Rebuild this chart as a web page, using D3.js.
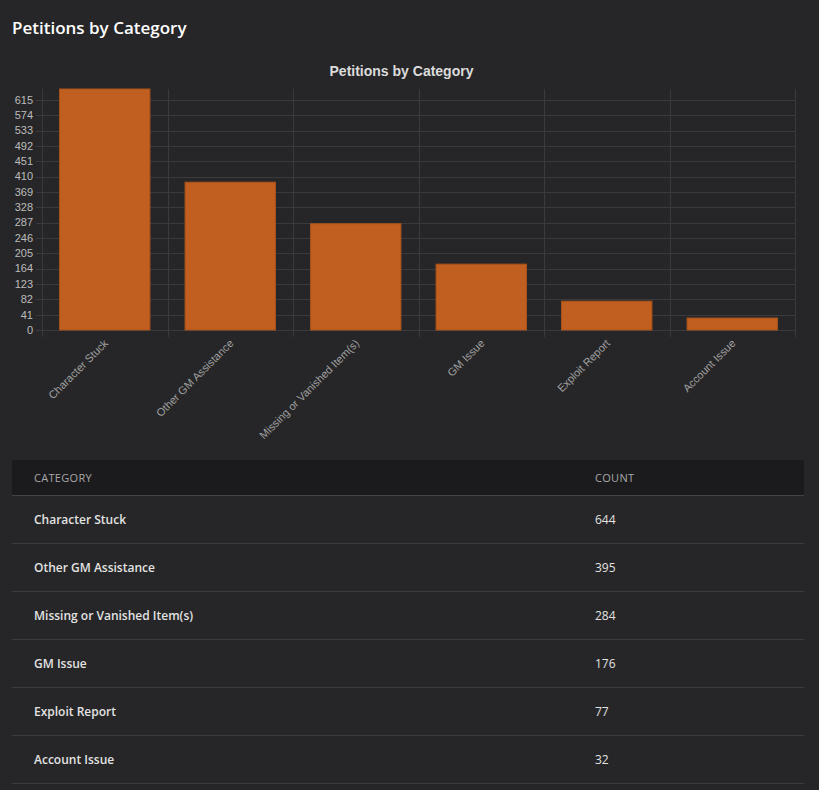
<!DOCTYPE html>
<html>
<head>
<meta charset="utf-8">
<script src="https://cdn.jsdelivr.net/npm/d3@7"></script>
<style>
  body { margin: 0; background: #262628; color: #eee; font-family: "Open Sans", sans-serif; }
  h2 { margin: 0; position: absolute; left: 12px; top: 16px; font-size: 17px; font-weight: 600; color: #fff; }
  #chart { position: absolute; left: 0; top: 50px; }
  table { position: absolute; left: 12px; top: 460px; width: 792px; border-collapse: collapse;
          font-family: "Open Sans", sans-serif; }
  th { background: #1b1b1d; color: #a8a8a8; font-size: 11px; font-weight: 500; text-align: left;
       height: 35px; padding: 0 0 0 22px; border-bottom: 1px solid #444; letter-spacing: 0.3px; }
  td { color: #e2e2e2; font-size: 12px; font-weight: 600; height: 47px; padding: 0 0 0 22px;
       border-bottom: 1px solid #3c3c3f; }
  td.num { font-weight: 500; }
</style>
</head>
<body>
<h2>Petitions by Category</h2>
<div id="chart"></div>
<table id="tbl"></table>
<script>
// Data
const categories = ["Character Stuck", "Other GM Assistance", "Missing or Vanished Item(s)", "GM Issue", "Exploit Report", "Account Issue"];
const counts = [644, 395, 284, 176, 77, 32];
const yTicks = [0, 41, 82, 123, 164, 205, 246, 287, 328, 369, 410, 451, 492, 533, 574, 615];

const data = categories.map((c, i) => ({category: c, count: counts[i]}));

// Chart dimensions (svg sits 50px below page top)
const margin = {top: 39, right: 24, bottom: 110, left: 42};
const width = 819 - margin.left - margin.right;
const height = 280 - margin.top;

const svg = d3.select("#chart")
    .append("svg")
    .attr("width", 819)
    .attr("height", 400)
    .style("font-family", "'Liberation Sans', Arial, sans-serif");

const g = svg.append("g")
    .attr("transform", `translate(${margin.left}, ${margin.top})`);

const x = d3.scaleBand()
    .domain(categories)
    .range([0, width]);

const y = d3.scaleLinear()
    .domain([0, d3.max(counts)])
    .range([height, 0]);

// Title
svg.append("text")
    .attr("x", margin.left + width / 2 - 17)
    .attr("y", 26)
    .attr("text-anchor", "middle")
    .style("font-size", "14px")
    .style("font-weight", "bold")
    .style("fill", "#dcdcdc")
    .text("Petitions by Category");

// Horizontal grid
g.selectAll(".hgrid")
    .data(yTicks)
    .enter()
    .append("line")
    .attr("x1", -6)
    .attr("x2", width)
    .attr("y1", d => Math.round(y(d)) + 0.5)
    .attr("y2", d => Math.round(y(d)) + 0.5)
    .attr("stroke", "#3a3a3e");

// Vertical grid at category boundaries
const bounds = categories.map(c => x(c)).concat([width]);
g.selectAll(".vgrid")
    .data(bounds)
    .enter()
    .append("line")
    .attr("x1", d => Math.round(d) + 0.5)
    .attr("x2", d => Math.round(d) + 0.5)
    .attr("y1", 0)
    .attr("y2", height + 7)
    .attr("stroke", "#3a3a3e");

// Bars
const barW = x.bandwidth() * 0.72;
g.selectAll(".bar")
    .data(data)
    .enter()
    .append("rect")
    .attr("class", "bar")
    .attr("x", d => x(d.category) + (x.bandwidth() - barW) / 2)
    .attr("y", d => y(d.count))
    .attr("width", barW)
    .attr("height", d => height - y(d.count))
    .attr("fill", "#c05f1f")
    .attr("stroke", "#a9531b")
    .attr("stroke-width", 1);

// Y axis labels
g.selectAll(".ylab")
    .data(yTicks)
    .enter()
    .append("text")
    .attr("x", -9)
    .attr("y", d => y(d))
    .attr("dy", "0.35em")
    .attr("text-anchor", "end")
    .style("font-size", "11px")
    .style("fill", "#bcbcbc")
    .text(d => d);

// X axis labels, rotated
g.selectAll(".xlab")
    .data(categories)
    .enter()
    .append("text")
    .attr("transform", d => `translate(${x(d) + x.bandwidth() / 2 + 4}, ${height + 14}) rotate(-45)`)
    .attr("text-anchor", "end")
    .style("font-size", "11px")
    .style("fill", "#a0a0a0")
    .text(d => d);

// Table
const tbl = d3.select("#tbl");
tbl.append("tr")
    .selectAll("th")
    .data(["CATEGORY", "COUNT"])
    .enter()
    .append("th")
    .style("width", (d, i) => i === 0 ? "539px" : null)
    .text(d => d);

tbl.selectAll(".row")
    .data(data)
    .enter()
    .append("tr")
    .selectAll("td")
    .data(d => [d.category, d.count])
    .enter()
    .append("td")
    .attr("class", (d, i) => i === 1 ? "num" : null)
    .text(d => d);
</script>
</body>
</html>
